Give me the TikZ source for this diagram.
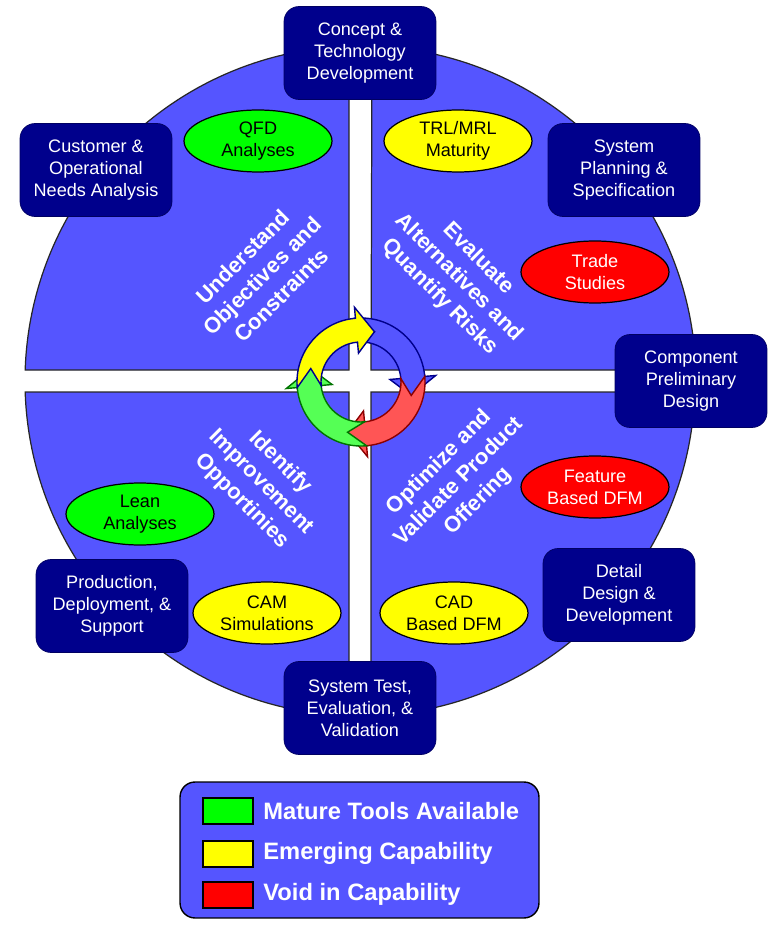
\documentclass[tikz,border=0pt]{standalone}
\usepackage{fontspec}
\setmainfont{Liberation Sans}
\usetikzlibrary{shapes.geometric}

\definecolor{discblue}{RGB}{85,85,255}
\definecolor{boxnavy}{RGB}{0,0,140}
\definecolor{arrowred}{RGB}{255,85,85}
\definecolor{arrowgreen}{RGB}{85,255,85}
\definecolor{toolgreen}{RGB}{0,255,0}
\definecolor{toolyellow}{RGB}{255,255,0}
\definecolor{toolred}{RGB}{255,0,0}

\tikzset{
	phase/.style={draw=boxnavy!70!black, fill=boxnavy, rounded corners=3mm, minimum width=3.04cm, minimum height=1.86cm, align=center, text=white, inner sep=1pt, font=\fontsize{10.3}{12.5}\selectfont},
	tool/.style={ellipse, draw=black, line width=0.7pt, minimum width=2.96cm, minimum height=1.24cm, align=center, inner sep=0pt, font=\fontsize{10.3}{12.5}\selectfont},
	goal/.style={text=white, align=center, inner sep=0pt, font=\bfseries\fontsize{12.5}{15.5}\selectfont},
	quarter/.style={draw=black!85, line width=0.7pt, fill=discblue},
	swatch/.style={draw=black, line width=1.2pt, minimum width=1cm, minimum height=0.52cm, inner sep=0pt},
	key/.style={text=white, anchor=west, inner sep=0pt, font=\bfseries\fontsize{13.5}{15}\selectfont}
}

% cycle arrow piece: [style](tail:base:tip), angles in degrees
\def\cyclearrow[#1](#2:#3:#4){\draw[#1] (#2:64) arc (#2:#3:64) -- (#3:75) -- (#4:52) -- (#3:29) -- (#3:40) arc (#3:#2:40) -- ({#2-20}:52) -- cycle;}

\begin{document}
\begin{tikzpicture}[x=0.02cm, y=0.02cm]
	%%%%% START %%%%%
	\useasboundingbox (0, 0) rectangle (769, -925);
	
	% the four quarters of the disc
	\draw[quarter] (349, -370) -- (349, -46.18) arc (91.88:178.12:335) -- cycle;
	\draw[quarter] (371, -370) -- (695.82, -370) arc (1.88:88.12:335) -- cycle;
	\draw[quarter] (371, -392) -- (371, -715.82) arc (-88.12:-1.88:335) -- cycle;
	\draw[quarter] (349, -392) -- (25.18, -392) arc (181.88:268.12:335) -- cycle;
	
	% cycle in the middle
	\begin{scope}[shift={(361, -382)}, line width=0.8pt]
		\cyclearrow[fill=discblue, draw=boxnavy](95:5:-15)
		\cyclearrow[fill=arrowred, draw=red!55!black](5:-85:-105)
		\cyclearrow[fill=arrowgreen, draw=green!45!black](-85:-175:-195)
		\cyclearrow[fill=toolyellow, draw=boxnavy](185:95:75)
	\end{scope}
	
	% phase goals
	\node[goal, rotate=45] (understand) at (262, -276) {Understand\\Objectives and\\Constraints};
	\node[goal, rotate=-45] (evaluate) at (459, -278) {Evaluate\\Alternatives and\\Quantify Risks};
	\node[goal, rotate=-45] (identify) at (261, -482) {Identify\\Improvement\\Opportinies};
	\node[goal, rotate=45] (optimize) at (459, -482) {Optimize and\\Validate Product\\Offering};
	
	% tools
	\node[tool, fill=toolgreen] (qfd) at (258, -141) {QFD\\Analyses};
	\node[tool, fill=toolyellow] (trl) at (458, -141) {TRL/MRL\\Maturity};
	\node[tool, fill=toolred, text=white] (trade) at (595, -272) {Trade\\Studies};
	\node[tool, fill=toolred, text=white] (feature) at (595, -487) {Feature\\Based DFM};
	\node[tool, fill=toolgreen] (lean) at (140, -514) {Lean\\Analyses};
	\node[tool, fill=toolyellow] (cam) at (267, -613) {CAM\\Simulations};
	\node[tool, fill=toolyellow] (cad) at (454, -613) {CAD\\Based DFM};
	
	% life cycle phases
	\node[phase] (concept) at (360, -53) {Concept \&\\Technology\\Development};
	\node[phase] (customer) at (96, -170) {Customer \&\\Operational\\Needs Analysis};
	\node[phase] (planning) at (624, -170) {System\\Planning \&\\Specification};
	\node[phase] (component) at (691, -381) {Component\\Preliminary\\Design};
	\node[phase] (detail) at (619, -595) {Detail\\Design \&\\Development};
	\node[phase] (systest) at (360, -708) {System Test,\\Evaluation, \&\\Validation};
	\node[phase] (production) at (112, -606) {Production,\\Deployment, \&\\Support};
	
	% legend
	\node[draw=black, line width=0.8pt, fill=discblue, rounded corners=3mm, minimum width=7.18cm, minimum height=2.72cm] (legend) at (359.5, -850) {};
	\node[swatch, fill=toolgreen] (mature) at (228, -811) {};
	\node[swatch, fill=toolyellow] (emerging) at (228, -854) {};
	\node[swatch, fill=toolred] (void) at (228, -895) {};
	\node[key] (maturetext) at (263, -811) {Mature Tools Available};
	\node[key] (emergingtext) at (263, -853) {Emerging Capability};
	\node[key] (voidtext) at (263, -894) {Void in Capability};
	
	%%%%% END %%%%%
\end{tikzpicture}
\end{document}
